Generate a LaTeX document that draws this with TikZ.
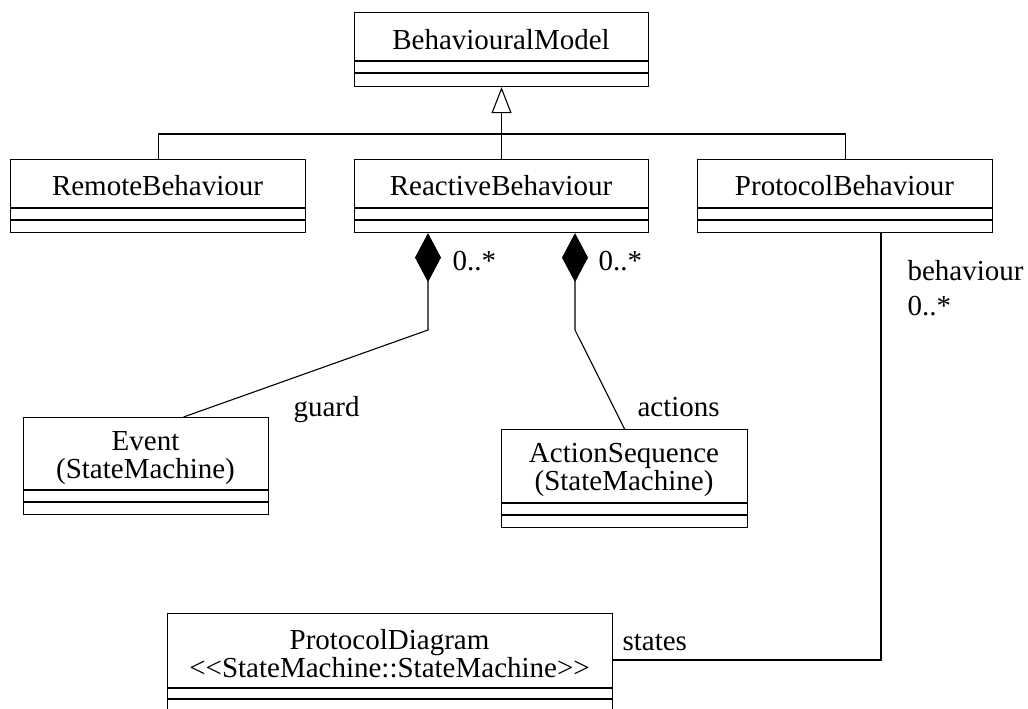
\documentclass[tikz,border=0pt]{standalone}
\usepackage{fontspec}
\setmainfont{Liberation Serif}
\usetikzlibrary{arrows.meta,calc}
\newcommand\umldivs[3]{%
  \draw ([yshift=-#2pt]#1.north west) -- ([yshift=-#2pt]#1.north east);
  \draw ([yshift=-#3pt]#1.north west) -- ([yshift=-#3pt]#1.north east);}
\begin{document}
\begin{tikzpicture}[x=1pt,y=-1pt, line width=1.1pt,
  cls/.style={draw, rectangle, inner sep=0pt, anchor=north west},
  ttl/.style={anchor=base, inner sep=0pt, text height=19pt, text depth=0pt, font=\fontsize{29}{26}\selectfont},
  lbl/.style={anchor=base west, inner sep=0pt, font=\fontsize{29}{26}\selectfont},
  comp/.style={{Diamond[length=49pt,width=26pt,fill=black]}-},
  gen/.style={-{Triangle[open,length=26pt,width=20pt]}}]
\useasboundingbox (0,0) rectangle (1028,709);
\fill[white] (0,0) rectangle (1028,709);
% classes
\node[cls, minimum width=294pt, minimum height=74pt] (bm) at (354,12) {};
\umldivs{bm}{49}{61}
\node[ttl] (bmt) at (501,50) {BehaviouralModel};

\node[cls, minimum width=295pt, minimum height=73pt] (rem) at (10,159) {};
\umldivs{rem}{49}{61}
\node[ttl] (remt) at (157.5,195) {RemoteBehaviour};

\node[cls, minimum width=294pt, minimum height=73pt] (rea) at (354,159) {};
\umldivs{rea}{49}{61}
\node[ttl] (reat) at (501,195) {ReactiveBehaviour};

\node[cls, minimum width=295pt, minimum height=73pt] (pro) at (697,159) {};
\umldivs{pro}{49}{61}
\node[ttl] (prot) at (844.5,195) {ProtocolBehaviour};

\node[cls, minimum width=245pt, minimum height=97pt] (ev) at (23,417) {};
\umldivs{ev}{73}{85}
\node[ttl] (evt1) at (145.5,450) {Event};
\node[ttl] (evt2) at (145.5,478) {(StateMachine)};

\node[cls, minimum width=246pt, minimum height=98pt] (act) at (501,429) {};
\umldivs{act}{74}{86}
\node[ttl] (actt1) at (624,462) {ActionSequence};
\node[ttl] (actt2) at (624,490) {(StateMachine)};

\node[cls, minimum width=445pt, minimum height=99pt] (pd) at (167,613) {};
\umldivs{pd}{75}{86}
\node[ttl] (pdt1) at (389.5,649) {ProtocolDiagram};
\node[ttl] (pdt2) at (389.5,677) {<\kern0pt<StateMachine::StateMachine>\kern0pt>};

% generalization
\coordinate (hj) at (501,134);
\draw[gen] (rea.north) -- (bm.south);
\draw (rem.north) |- (hj) -| (pro.north);

% compositions
\coordinate (g1) at (428,330);
\coordinate (a1) at (575,330);
\draw[comp] (rea.south -| g1) -- (g1) -- ([xshift=37.5pt]ev.north);
\draw[comp] (rea.south -| a1) -- (a1) -- (act.north);

% association
\coordinate (p1) at (881,660);
\draw (pro.south -| p1) -- (p1) -- (pd.east |- p1);

% labels
\node[lbl] (m1) at (452,270) {0..*};
\node[lbl] (m2) at (598,270) {0..*};
\node[lbl] (lg) at (293,416) {guard};
\node[lbl] (la) at (637,416) {actions};
\node[lbl] (lb) at (907,280) {behaviour};
\node[lbl] (m3) at (907,315) {0..*};
\node[lbl] (ls) at (622,650) {states};
\end{tikzpicture}
\end{document}
